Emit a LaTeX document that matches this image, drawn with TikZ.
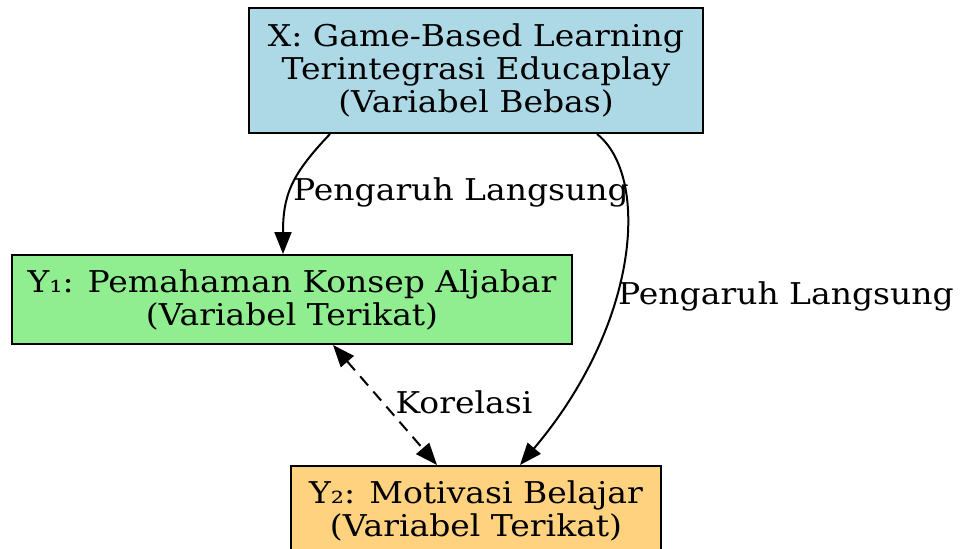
\documentclass[tikz,border=0pt]{standalone}
\usepackage{xcolor}
\usepackage{fontspec}
\setmainfont{DejaVu Serif}[FakeStretch=1.1]
\usetikzlibrary{positioning, arrows.meta}

\definecolor{xblue}{HTML}{ADD8E6}
\definecolor{ygreen}{HTML}{90EE90}
\definecolor{yorange}{HTML}{FFD27F}

\begin{document}
\begin{tikzpicture}[line width=1pt, every node/.style={font=\fontsize{15pt}{16.5pt}\selectfont},
        var/.style={draw, rectangle, align=center, inner sep=0pt},
        tip/.style={-{Triangle[length=11pt,width=8.5pt]}}]
            \useasboundingbox (0,0) rectangle (480pt,-274pt);
            \clip (0,0) rectangle (480pt,-274pt);
            \node[var, fill=xblue, minimum width=227pt, minimum height=62.5pt] (x) at (238pt,-35.25pt) {X: Game-Based Learning\\Terintegrasi Educaplay\\(Variabel Bebas)};
            \node[var, fill=ygreen, minimum width=280pt, minimum height=44.5pt, below=60pt of x, xshift=-92pt] (y1) {Y₁: Pemahaman Konsep Aljabar\\(Variabel Terikat)};
            \node[var, fill=yorange, minimum width=185pt, minimum height=44.5pt, below=60pt of y1, xshift=92pt] (y2) {Y₂: Motivasi Belajar\\(Variabel Terikat)};
            \draw[tip] ([xshift=-73pt]x.south) .. controls +(-19pt,-20pt) and +(0,30pt) .. ([xshift=-4.5pt]y1.north);
            \draw[tip] ([xshift=60.5pt]x.south) .. controls +(26.5pt,-21pt) and +(60pt,71pt) .. ([xshift=22pt]y2.north);
            \draw[dashed, dash pattern=on 6pt off 4pt, {Triangle[length=11pt,width=8.5pt]}-{Triangle[length=11pt,width=8.5pt]}] ([xshift=20.5pt]y1.south) -- ([xshift=-19.5pt]y2.north);
            \node (lx1) at (230.5pt,-96pt) {Pengaruh Langsung};
            \node (lx2) at (393pt,-148pt) {Pengaruh Langsung};
            \node (lk) at (232pt,-201pt) {Korelasi};
        \end{tikzpicture}
\end{document}
